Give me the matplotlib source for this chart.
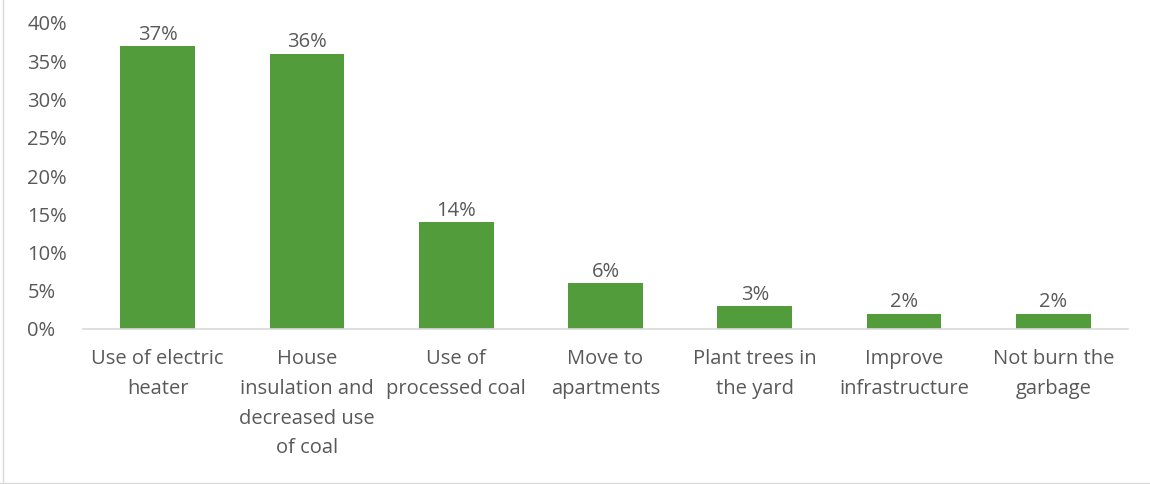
import numpy as np
import matplotlib.pyplot as plt
from matplotlib.lines import Line2D

# datos
categorias = ['Use of electric\nheater',
              'House\ninsulation and\ndecreased use\nof coal',
              'Use of\nprocessed coal',
              'Move to\napartments',
              'Plant trees in\nthe yard',
              'Improve\ninfrastructure',
              'Not burn the\ngarbage']
valores = [37, 36, 14, 6, 3, 2, 2]
yticks = [0, 5, 10, 15, 20, 25, 30, 35, 40]

verde = '#539C3B'
gris = '#595959'
plt.rcParams['font.family'] = ['Open Sans', 'DejaVu Sans']
fs = 14.5

fig = plt.figure(figsize=(11.5, 4.84), dpi=100)
ax = fig.add_axes([83/1150, 1 - 329/484, (1128-83)/1150, (329-23)/484])

x = np.arange(len(valores))
barras = ax.bar(x, valores, width=0.5, color=verde, zorder=2)
for xi, v in zip(x, valores):
    ax.annotate(f'{v}%', (xi, v), xytext=(0, 1), textcoords='offset points',
                ha='center', va='bottom', fontsize=fs, color=gris)

ax.set_xlim(-0.5, len(valores) - 0.5)
ax.set_ylim(0, 40)
ax.set_yticks(yticks)
ax.set_yticklabels([f'{t}%' for t in yticks])
ax.set_xticks(x)
ax.set_xticklabels(categorias, linespacing=1.65)

for s in ['top', 'right', 'left']:
    ax.spines[s].set_visible(False)
ax.spines['bottom'].set_color('#D9D9D9')
ax.spines['bottom'].set_linewidth(1.2)

ax.tick_params(axis='both', length=0, labelsize=fs, labelcolor=gris)
ax.tick_params(axis='y', pad=40)
for t in ax.get_yticklabels():
    t.set_horizontalalignment('left')
ax.tick_params(axis='x', pad=14.5)

# borde del area del grafico
fig.add_artist(Line2D([3/1150, 3/1150], [0, 1], color='#D9D9D9', lw=1))
fig.add_artist(Line2D([0, 1], [1.5/484, 1.5/484], color='#D9D9D9', lw=1))

fig.savefig('out.png', dpi=100)
